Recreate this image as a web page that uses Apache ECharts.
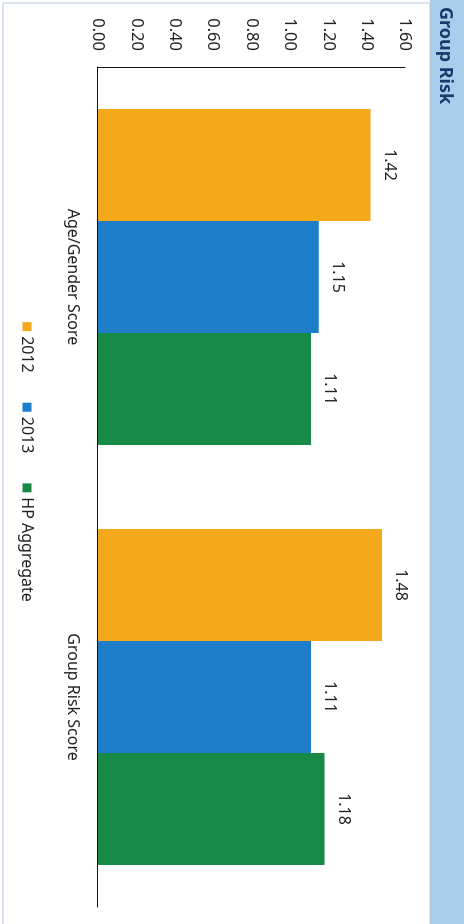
<!DOCTYPE html>
<html>
<head>
<meta charset="utf-8">
<script src="https://cdn.jsdelivr.net/npm/echarts@6/dist/echarts.min.js"></script>
<style>
html,body{margin:0;padding:0;background:#fff;width:464px;height:924px;overflow:hidden;}
#wrap{position:absolute;left:0;top:0;width:924px;height:464px;transform-origin:0 0;transform:translateX(464px) rotate(90deg);}
#chart{width:924px;height:464px;}
</style>
</head>
<body>
<div id="wrap"><div id="chart"></div></div>
<script>
const titleText = 'Group Risk';
const categories = ['Age/Gender Score', 'Group Risk Score'];
const seriesNames = ['2012', '2013', 'HP Aggregate'];
const values2012 = [1.42, 1.48];
const values2013 = [1.15, 1.11];
const valuesHP = [1.11, 1.18];
const colors = ['#F5A81A', '#1E7DC9', '#188A47'];
const yMin = 0, yMax = 1.6, yInterval = 0.2;

const font = 'Noto Sans';
const chart = echarts.init(document.getElementById('chart'), null, {renderer: 'canvas'});
const seriesData = [values2012, values2013, valuesHP];
chart.setOption({
  animation: false,
  backgroundColor: '#fff',
  textStyle: {fontFamily: font},
  graphic: [
    {type: 'rect', z: -1, shape: {x: 0, y: 0, width: 924, height: 34}, style: {fill: '#A9CDEA'}},
    {type: 'rect', z: -1, shape: {x: 3, y: 34, width: 925, height: 427}, style: {fill: 'none', stroke: '#B4C6DC', lineWidth: 1}}
  ],
  title: {
    text: titleText, left: 2, top: 5,
    textStyle: {fontFamily: font, fontSize: 18, fontWeight: 'bold', color: '#173B6C'}
  },
  legend: {
    data: seriesNames, left: 'center', top: 424,
    icon: 'rect', itemWidth: 9, itemHeight: 9, itemGap: 30, itemSpacing: 6,
    textStyle: {fontFamily: font, fontSize: 16, color: '#222'}
  },
  grid: {left: 67, right: 17, top: 59, bottom: 98},
  xAxis: {
    type: 'category', data: categories,
    axisLine: {show: true, lineStyle: {color: '#111', width: 1}},
    axisTick: {show: false},
    axisLabel: {margin: 17, fontFamily: font, fontSize: 16, color: '#222'}
  },
  yAxis: {
    type: 'value', min: yMin, max: yMax, interval: yInterval,
    axisLine: {show: true, lineStyle: {color: '#111', width: 1}},
    axisTick: {show: false},
    splitLine: {show: false},
    axisLabel: {margin: 16, fontFamily: font, fontSize: 16.5, color: '#222', formatter: v => v.toFixed(2)}
  },
  series: seriesNames.map((n, i) => ({
    name: n, type: 'bar', data: seriesData[i],
    barGap: '0%', barCategoryGap: '20%',
    itemStyle: {color: colors[i]},
    label: {show: true, position: 'top', distance: 11, fontFamily: font, fontSize: 16, color: '#222', formatter: p => p.value.toFixed(2)}
  }))
});
</script>
</body>
</html>
